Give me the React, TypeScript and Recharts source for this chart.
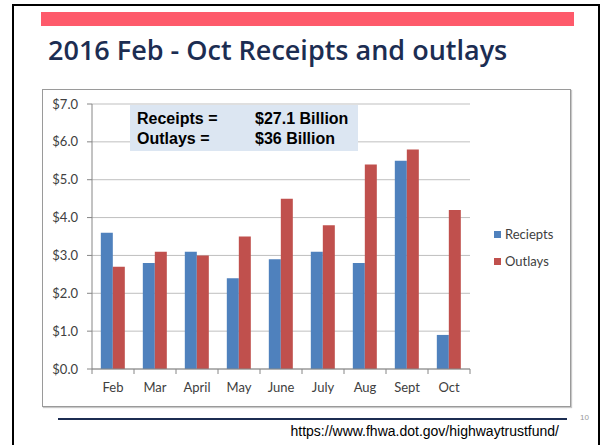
import React from 'react';
import { BarChart, Bar, XAxis, YAxis, CartesianGrid } from 'recharts';

const months = ['Feb', 'Mar', 'April', 'May', 'June', 'July', 'Aug', 'Sept', 'Oct'];
const receipts = [3.6, 2.8, 3.1, 2.4, 2.9, 3.1, 2.8, 5.5, 0.9];
const outlays = [2.7, 3.1, 3.0, 3.5, 4.5, 3.8, 5.4, 5.8, 4.2];
const yTicks = [0, 1, 2, 3, 4, 5, 6, 7];
const seriesNames = ['Reciepts', 'Outlays'];
const seriesColors = ['#4f81bd', '#c0504d'];
const titleText = '2016 Feb - Oct Receipts and outlays';
const boxLines = [
  ['Receipts =', '$27.1 Billion'],
  ['Outlays =', '$36 Billion'],
];
const sourceUrl = 'https://www.fhwa.dot.gov/highwaytrustfund/';
const pageNumber = '10';

const data = months.map((m, i) => ({ month: m, receipts: receipts[i], outlays: outlays[i] }));

const AXIS = '#868686';
const LABEL = '#404040';
const FONT = 'Lato, "Open Sans", sans-serif';

const XTick = (props: any) => {
  const { x, y, payload, index, visibleTicksCount } = props;
  const off = payload && payload.offset != null ? payload.offset : 21;
  const isLast = index === (visibleTicksCount ?? months.length) - 1;
  return (
    <g>
      <line x1={x - off} x2={x - off} y1={y - 5} y2={y} stroke={AXIS} />
      {isLast && <line x1={x + off} x2={x + off} y1={y - 5} y2={y} stroke={AXIS} />}
      <text x={x} y={y + 18} textAnchor="middle" fill={LABEL} fontSize={13} fontFamily={FONT}>
        {payload.value}
      </text>
    </g>
  );
};

export default function App() {
  return (
    <div style={{ position: 'absolute', left: 0, top: 0, width: 602, height: 445, background: '#fff', overflow: 'hidden' }}>
      {/* slide frame */}
      <div style={{ position: 'absolute', left: 12, top: 4, width: 584, height: 460, border: '2px solid #000' }} />
      {/* red band */}
      <div style={{ position: 'absolute', left: 41, top: 12, width: 533, height: 14, background: '#fe5a6b' }} />
      {/* title */}
      <div
        style={{
          position: 'absolute',
          left: 48,
          top: 34,
          fontFamily: '"Open Sans", sans-serif',
          fontWeight: 600,
          fontSize: 27,
          color: '#1c2d52',
          whiteSpace: 'nowrap',
          lineHeight: '32px',
        }}
      >
        {titleText}
      </div>
      {/* chart box */}
      <div
        style={{
          position: 'absolute',
          left: 42,
          top: 89,
          width: 527,
          height: 316,
          border: '1px solid #9a9a9a',
          boxShadow: '1px 1px 1px #c8c8c8',
        }}
      />
      <div style={{ position: 'absolute', left: 43, top: 90 }}>
        <BarChart
          width={527}
          height={316}
          data={data}
          margin={{ top: 14, right: 100, left: 0, bottom: 0 }}
          barCategoryGap="21%"
          barGap={0}
        >
          <CartesianGrid vertical={false} stroke="#bfbfbf" strokeWidth={1} />
          <XAxis
            dataKey="month"
            height={37}
            interval={0}
            tickLine={false}
            tickSize={5}
            tickMargin={0}
            axisLine={{ stroke: AXIS }}
            tick={<XTick />}
          />
          <YAxis
            width={49}
            domain={[0, 7]}
            ticks={yTicks}
            interval={0}
            tickSize={5}
            tickMargin={9}
            tickLine={{ stroke: AXIS }}
            axisLine={{ stroke: AXIS }}
            tick={{ fill: LABEL, fontSize: 13, fontFamily: FONT }}
            tickFormatter={(v: number) => `$${v.toFixed(1)}`}
          />
          <Bar dataKey="receipts" name={seriesNames[0]} fill={seriesColors[0]} isAnimationActive={false} />
          <Bar dataKey="outlays" name={seriesNames[1]} fill={seriesColors[1]} isAnimationActive={false} />
        </BarChart>
      </div>
      {/* legend */}
      <div style={{ position: 'absolute', left: 494, top: 226, fontFamily: FONT, fontSize: 13, color: LABEL }}>
        {seriesNames.map((n, i) => (
          <div key={n} style={{ display: 'flex', alignItems: 'center', height: 16, marginBottom: 11 }}>
            <span style={{ display: 'inline-block', width: 7, height: 7, background: seriesColors[i], marginRight: 4 }} />
            <span>{n}</span>
          </div>
        ))}
      </div>
      {/* totals box */}
      <div
        style={{
          position: 'absolute',
          left: 130,
          top: 105,
          width: 228,
          height: 46,
          background: '#dce6f2',
          fontFamily: '"Liberation Sans", Arial, sans-serif',
          fontWeight: 700,
          fontSize: 16,
          color: '#000',
        }}
      >
        {boxLines.map((l, i) => (
          <div key={i} style={{ position: 'absolute', left: 0, top: 4 + i * 20, height: 20, lineHeight: '20px', width: 228 }}>
            <span style={{ position: 'absolute', left: 7 }}>{l[0]}</span>
            <span style={{ position: 'absolute', left: 125 }}>{l[1]}</span>
          </div>
        ))}
      </div>
      {/* footer */}
      <div style={{ position: 'absolute', left: 58, top: 418, width: 509, height: 2, background: '#1c2d52' }} />
      <div
        style={{
          position: 'absolute',
          right: 602 - 559,
          top: 422,
          fontFamily: '"Liberation Sans", Arial, sans-serif',
          fontSize: 14,
          color: '#000',
          lineHeight: '18px',
          whiteSpace: 'nowrap',
        }}
      >
        {sourceUrl}
      </div>
      <div
        style={{
          position: 'absolute',
          left: 580,
          top: 413,
          fontFamily: '"Liberation Sans", Arial, sans-serif',
          fontSize: 8,
          color: '#9a9a9a',
          lineHeight: '10px',
        }}
      >
        {pageNumber}
      </div>
    </div>
  );
}
